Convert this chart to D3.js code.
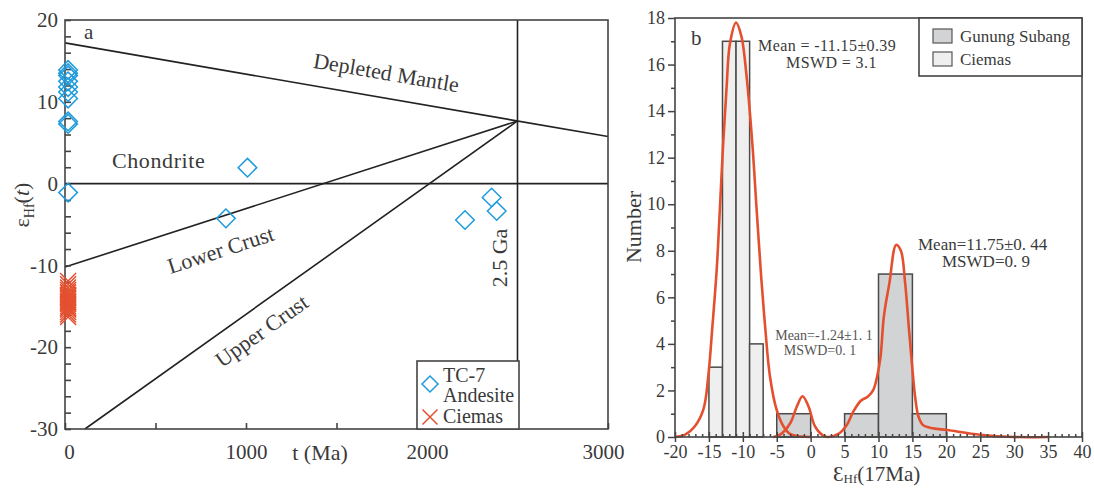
<!DOCTYPE html>
<html>
<head>
<meta charset="utf-8">
<script src="https://cdn.jsdelivr.net/npm/d3@7"></script>
<style>
  html, body { margin: 0; padding: 0; background: #ffffff; }
  svg { display: block; }
  text { font-family: "Liberation Serif", "Times New Roman", serif; fill: #3a3a3a; }
</style>
</head>
<body>
<svg id="chart" width="1094" height="488"></svg>
<script>
// ---------------- Panel a data ----------------
const aXTicks = [0, 500, 1000, 1500, 2000, 2500, 3000];
const aXLabels = [0, 1000, 2000, 3000];
const aYLabels = [-30, -20, -10, 0, 10, 20];
// reference evolution lines (t in Ma, εHf)
const depletedMantle = [[0, 17.2], [3000, 5.75]];
const chondrite = [[0, 0], [3000, 0]];
const lowerCrust = [[0, -10.2], [2500, 7.66]];
const upperCrust = [[110, -30], [2500, 7.66]];
const line25Ga = [[2500, -30], [2500, 20]];
// TC-7 Andesite (diamonds)
const tc7T =   [17, 17, 17, 17, 17, 17, 17, 17, 17, 17, 889, 1008, 2210, 2357, 2385];
const tc7Eps = [13.9, 13.5, 13.2, 12.5, 11.8, 11.2, 10.4, 7.6, 7.3, -1.1, -4.25, 1.95, -4.45, -1.7, -3.35];
// Ciemas (crosses)
const ciemasT =   [17, 17, 17, 17, 17, 17, 17, 17, 17, 17, 17, 17, 17, 17, 17, 17, 17];
const ciemasEps = [-11.9, -12.3, -12.7, -13.0, -13.3, -13.6, -13.8, -14.0, -14.3, -14.5, -14.7, -15.0, -15.2, -15.4, -15.7, -16.0, -16.3];

// ---------------- Panel b data ----------------
const bXLabels = [-20, -15, -10, -5, 0, 5, 10, 15, 20, 25, 30, 35, 40];
const bYLabels = [0, 2, 4, 6, 8, 10, 12, 14, 16, 18];
const ciemasBinStart = [-15, -13, -11, -9];
const ciemasBinEnd   = [-13, -11, -9, -7];
const ciemasCounts   = [3, 17, 17, 4];
const gunungBinStart = [-5, 5, 10, 15];
const gunungBinEnd   = [0, 10, 15, 20];
const gunungCounts   = [1, 1, 7, 1];
// probability curves
const ciemasCurveX = [-20, -18.5, -17.1, -15.8, -15.1, -14.5, -13.85, -13.4, -12.9, -12.4, -11.9, -11.0, -10.2, -9.45, -8.6, -7.95, -7.3, -6.7, -6.0, -5.0, -4.0, -3.0, -1.5, 0];
const ciemasCurveY = [0, 0.1, 0.45, 1.2, 2.6, 4.7, 7.2, 9.7, 12.6, 15.0, 16.9, 17.8, 17.2, 15.5, 12.6, 9.7, 6.9, 4.7, 2.6, 1.15, 0.45, 0.12, 0.02, 0];
const gunungCurveX = [-5.5, -4.5, -3.0, -2.05, -1.2, -0.3, 0.65, 1.9, 2.6, 4.1, 5.3, 6.3, 7.4, 8.4, 9.2, 9.8, 10.3, 10.8, 11.6, 12.6, 13.3, 13.9, 14.5, 15.0, 15.4, 15.9, 16.6, 18.1, 20.1, 25, 30, 35];
const gunungCurveY = [0, 0.1, 0.6, 1.3, 1.75, 1.3, 0.45, 0.05, 0, 0.13, 0.5, 1.1, 1.56, 1.73, 2.0, 2.6, 3.45, 5.2, 6.6, 8.25, 8.0, 6.7, 4.6, 2.9, 1.73, 0.87, 0.5, 0.37, 0.3, 0.1, 0, 0];

// ---------------- drawing ----------------
const svg = d3.select("#chart");
const ink = "#444";
const blue = "#1e9bdc";
const red = "#e4502f";

// ===== Panel a =====
const xA = d3.scaleLinear().domain([0, 3000]).range([65, 608]);
const yA = d3.scaleLinear().domain([-30, 20]).range([429, 20]);
const gA = svg.append("g");

const lineA = d3.line().x(d => xA(d[0])).y(d => yA(d[1]));
[depletedMantle, chondrite, lowerCrust, upperCrust, line25Ga].forEach(l => {
  gA.append("path").attr("d", lineA(l)).attr("fill", "none")
    .attr("stroke", "#222").attr("stroke-width", 1.6);
});

// frame
gA.append("rect").attr("x", xA(0)).attr("y", yA(20))
  .attr("width", xA(3000) - xA(0)).attr("height", yA(-30) - yA(20))
  .attr("fill", "none").attr("stroke", ink).attr("stroke-width", 1.6);

// axes
const yAxisA = gA.append("g").attr("transform", `translate(${xA(0)},0)`)
  .call(d3.axisLeft(yA).tickValues(d3.range(-30, 21, 2)).tickSize(-6).tickPadding(7)
    .tickFormat(d => aYLabels.includes(d) ? String(d) : ""));
const xAxisA = gA.append("g").attr("transform", `translate(0,${yA(-30)})`)
  .call(d3.axisBottom(xA).tickValues(aXTicks).tickSize(-6).tickPadding(15)
    .tickFormat(d => aXLabels.includes(d) ? String(d) : ""));
[yAxisA, xAxisA].forEach(ax => {
  ax.select(".domain").remove();
  ax.selectAll(".tick line").attr("stroke", ink).attr("stroke-width", 1.6);
  ax.selectAll(".tick text").style("font-size", "21px").attr("fill", "#3a3a3a")
    .style("font-family", "'Liberation Serif', serif");
});
xAxisA.selectAll(".tick text").attr("dx", d => d === 0 ? 4 : (d === 3000 ? -5 : 0));

// points
const diamond = s => `M0,${-s}L${s},0L0,${s}L${-s},0Z`;
gA.append("g").selectAll("path").data(tc7T.map((t, i) => [t, tc7Eps[i]])).join("path")
  .attr("transform", d => `translate(${xA(d[0])},${yA(d[1])})`)
  .attr("d", diamond(9.3)).attr("fill", "none").attr("stroke", blue).attr("stroke-width", 1.5);
const cross = s => `M${-s},${-s}L${s},${s}M${-s},${s}L${s},${-s}`;
gA.append("g").selectAll("path").data(ciemasT.map((t, i) => [t, ciemasEps[i]])).join("path")
  .attr("transform", d => `translate(${xA(d[0])},${yA(d[1])})`)
  .attr("d", cross(8)).attr("fill", "none").attr("stroke", red).attr("stroke-width", 1.5);

// labels
gA.append("text").attr("x", 84).attr("y", 39).style("font-size", "21px").text("a");
gA.append("text").attr("transform", "translate(385,80) rotate(9.6)").attr("text-anchor", "middle")
  .style("font-size", "22px").text("Depleted Mantle");
gA.append("text").attr("x", 112).attr("y", 168).style("font-size", "22px").style("letter-spacing", "0.6px").text("Chondrite");
gA.append("text").attr("transform", "translate(223,257) rotate(-18)").attr("text-anchor", "middle")
  .style("font-size", "22px").text("Lower Crust");
gA.append("text").attr("transform", "translate(266,337) rotate(-35.4)").attr("text-anchor", "middle")
  .style("font-size", "22px").text("Upper Crust");
gA.append("text").attr("transform", "translate(507,258) rotate(-90)").attr("text-anchor", "middle")
  .style("font-size", "22px").text("2.5 Ga");
gA.append("text").attr("x", 320).attr("y", 460).attr("text-anchor", "middle")
  .style("font-size", "22px").text("t (Ma)");
const yl = gA.append("text").attr("transform", "translate(29,205) rotate(-90)").attr("text-anchor", "middle")
  .style("font-size", "22px");
yl.append("tspan").text("ε");
yl.append("tspan").attr("dy", 5).style("font-size", "14px").text("Hf");
yl.append("tspan").attr("dy", -5).text("(");
yl.append("tspan").style("font-style", "italic").text("t");
yl.append("tspan").text(")");

// legend a
const legA = gA.append("g");
legA.append("rect").attr("x", 417).attr("y", 361).attr("width", 102).attr("height", 68)
  .attr("fill", "#fff").attr("stroke", ink).attr("stroke-width", 1.6);
legA.append("path").attr("transform", "translate(430,384)").attr("d", diamond(8))
  .attr("fill", "none").attr("stroke", blue).attr("stroke-width", 1.5);
legA.append("path").attr("transform", "translate(430,417)").attr("d", cross(7.5))
  .attr("fill", "none").attr("stroke", red).attr("stroke-width", 1.5);
legA.append("text").attr("x", 443).attr("y", 382).style("font-size", "20px").text("TC-7");
legA.append("text").attr("x", 443).attr("y", 402).style("font-size", "20px").text("Andesite");
legA.append("text").attr("x", 443).attr("y", 423).style("font-size", "20px").text("Ciemas");

// ===== Panel b =====
const xB = d3.scaleLinear().domain([-20, 40]).range([675, 1082]);
const yB = d3.scaleLinear().domain([0, 18]).range([437, 18]);
const gB = svg.append("g");

const barStroke = "#4a4a4a";
gB.append("g").selectAll("rect").data(ciemasBinStart.map((s, i) => ({s, e: ciemasBinEnd[i], c: ciemasCounts[i]}))).join("rect")
  .attr("x", d => xB(d.s)).attr("width", d => xB(d.e) - xB(d.s))
  .attr("y", d => yB(d.c)).attr("height", d => yB(0) - yB(d.c))
  .attr("fill", "#efefef").attr("stroke", barStroke).attr("stroke-width", 1.5);
gB.append("g").selectAll("rect").data(gunungBinStart.map((s, i) => ({s, e: gunungBinEnd[i], c: gunungCounts[i]}))).join("rect")
  .attr("x", d => xB(d.s)).attr("width", d => xB(d.e) - xB(d.s))
  .attr("y", d => yB(d.c)).attr("height", d => yB(0) - yB(d.c))
  .attr("fill", "#d1d3d5").attr("stroke", barStroke).attr("stroke-width", 1.5);

const lineB = d3.line().x(d => xB(d[0])).y(d => yB(d[1])).curve(d3.curveCatmullRom.alpha(0.5));
gB.append("path").attr("d", lineB(ciemasCurveX.map((x, i) => [x, ciemasCurveY[i]])))
  .attr("fill", "none").attr("stroke", red).attr("stroke-width", 2.6);
gB.append("path").attr("d", lineB(gunungCurveX.map((x, i) => [x, gunungCurveY[i]])))
  .attr("fill", "none").attr("stroke", red).attr("stroke-width", 2.6);

// frame
gB.append("rect").attr("x", xB(-20)).attr("y", yB(18))
  .attr("width", xB(40) - xB(-20)).attr("height", yB(0) - yB(18))
  .attr("fill", "none").attr("stroke", ink).attr("stroke-width", 1.6);

// axes b
const yMajB = gB.append("g").attr("transform", `translate(${xB(-20)},0)`)
  .call(d3.axisLeft(yB).tickValues(bYLabels).tickSize(7).tickPadding(3).tickFormat(d => String(d)));
const yMinB = gB.append("g").attr("transform", `translate(${xB(-20)},0)`)
  .call(d3.axisLeft(yB).tickValues(d3.range(1, 18, 2)).tickSize(4).tickFormat(""));
const xMajB = gB.append("g").attr("transform", `translate(0,${yB(0)})`)
  .call(d3.axisBottom(xB).tickValues(bXLabels).tickSize(5).tickPadding(3).tickFormat(d => String(d)));
const xMajInB = gB.append("g").attr("transform", `translate(0,${yB(0)})`)
  .call(d3.axisBottom(xB).tickValues(bXLabels).tickSize(-5).tickFormat(""));
const xMinB = gB.append("g").attr("transform", `translate(0,${yB(0)})`)
  .call(d3.axisBottom(xB).tickValues(d3.range(-20, 41, 1).filter(v => v % 5 !== 0)).tickSize(-3).tickFormat(""));
[yMajB, yMinB, xMajB, xMajInB, xMinB].forEach(ax => {
  ax.select(".domain").remove();
  ax.selectAll(".tick line").attr("stroke", ink).attr("stroke-width", 1.5);
  ax.selectAll(".tick text").style("font-size", "18px").attr("fill", "#3a3a3a")
    .style("font-family", "'Liberation Serif', serif");
});

// legend b
const legB = gB.append("g");
legB.append("rect").attr("x", 919).attr("y", 18).attr("width", 163).attr("height", 58)
  .attr("fill", "#fff").attr("stroke", ink).attr("stroke-width", 1.6);
legB.append("rect").attr("x", 933).attr("y", 29).attr("width", 19).attr("height", 14)
  .attr("fill", "#d1d3d5").attr("stroke", "#555").attr("stroke-width", 1.2);
legB.append("rect").attr("x", 933).attr("y", 52).attr("width", 19).attr("height", 14)
  .attr("fill", "#efefef").attr("stroke", "#555").attr("stroke-width", 1.2);
legB.append("text").attr("x", 960).attr("y", 42).style("font-size", "17px").text("Gunung Subang");
legB.append("text").attr("x", 960).attr("y", 65).style("font-size", "17px").text("Ciemas");

// annotations b
gB.append("text").attr("x", 691).attr("y", 45).style("font-size", "21px").text("b");
gB.append("text").attr("x", 758).attr("y", 51).style("font-size", "16px").style("letter-spacing", "0.4px").text("Mean = -11.15±0.39");
gB.append("text").attr("x", 786).attr("y", 68).style("font-size", "16px").style("letter-spacing", "0.4px").text("MSWD = 3.1");
gB.append("text").attr("x", 918).attr("y", 250).style("font-size", "17px").text("Mean=11.75±0. 44");
gB.append("text").attr("x", 942).attr("y", 267).style("font-size", "17px").text("MSWD=0. 9");
gB.append("text").attr("x", 824).attr("y", 340).attr("text-anchor", "middle").style("font-size", "14px")
  .style("fill", "#555").text("Mean=-1.24±1. 1");
gB.append("text").attr("x", 820).attr("y", 355).attr("text-anchor", "middle").style("font-size", "14px")
  .style("fill", "#555").text("MSWD=0. 1");

gB.append("text").attr("transform", "translate(641,227) rotate(-90)").attr("text-anchor", "middle")
  .style("font-size", "22px").text("Number");
const xl = gB.append("text").attr("x", 833).attr("y", 481).style("font-size", "21px");
xl.append("tspan").text("Ɛ");
xl.append("tspan").attr("dy", 2).style("font-size", "13px").text("Hf");
xl.append("tspan").attr("dy", -2).text("(17Ma)");
</script>
</body>
</html>
